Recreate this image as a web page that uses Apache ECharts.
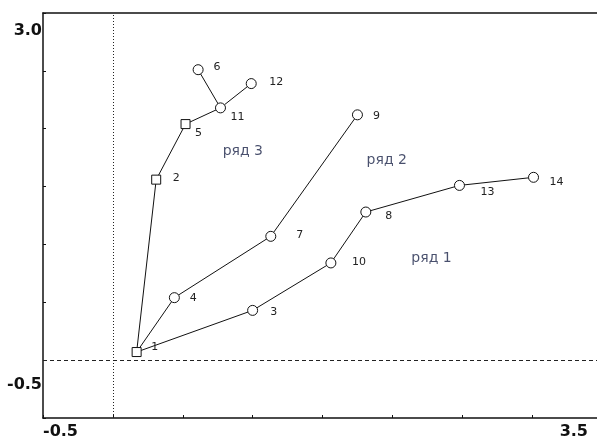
<!DOCTYPE html>
<html lang="ru">
<head>
<meta charset="UTF-8">
<title>ряды</title>
<style type="text/css">
body,html{width:100%;height:100%;margin:0;padding:0;background:#fff;}
#chart{width:597px;height:443px;}
</style>
</head>
<body>
<div id="chart"></div>
<script src="https://cdn.jsdelivr.net/npm/echarts@6/dist/echarts.min.js"></script>
<script type="text/javascript">
// точки
var nodeNames = ['1','2','3','4','5','6','7','8','9','10','11','12','13','14'];
var nodeX = [0.17, 0.31, 1.00, 0.44, 0.52, 0.61, 1.13, 1.81, 1.75, 1.56, 0.77, 0.99, 2.48, 3.01];
var nodeY = [0.07, 1.56, 0.43, 0.54, 2.04, 2.51, 1.07, 1.28, 2.12, 0.84, 2.18, 2.39, 1.51, 1.58];

// связи по рядам
var row1Links = [['1','3'],['3','10'],['10','8'],['8','13'],['13','14']];
var row2Links = [['1','4'],['4','7'],['7','9']];
var row3Links = [['1','2'],['2','5'],['5','11'],['11','6'],['11','12']];

var rowNames = ['ряд 1', 'ряд 2', 'ряд 3'];
var rowLabelX = [2.28, 1.96, 0.93];
var rowLabelY = [0.88, 1.73, 1.80];

// оси
var xTickValues = [-0.5, 3.5];
var xTickLabels = ['-0.5', '3.5'];
var yTickValues = [-0.5, 3.0];
var yTickLabels = ['-0.5', '3.0'];

// оформление подписей точек
var labelOffset = {
	'1':[18,-5], '2':[20,-1], '3':[21,2], '4':[19,0], '5':[13,9], '6':[19,-3], '7':[29,-1],
	'8':[23,4], '9':[19,1], '10':[28,-1], '11':[17,9], '12':[25,-1], '13':[28,7], '14':[23,5]
};
var squareNodes = ['1','2','5'];

var nodes = nodeNames.map(function (n, i) {
	var sq = squareNodes.indexOf(n) >= 0;
	return {
		name: n,
		value: [nodeX[i], nodeY[i]],
		symbol: sq ? 'rect' : 'circle',
		symbolSize: sq ? 9 : 10,
		label: { offset: labelOffset[n] }
	};
});
var links = row1Links.concat(row2Links, row3Links).map(function (l) {
	return { source: l[0], target: l[1] };
});

function tickFormatter(values, labels, styles) {
	return function (v) {
		for (var i = 0; i < values.length; i++) {
			if (Math.abs(v - values[i]) < 1e-6) return '{' + styles[i] + '|' + labels[i] + '}';
		}
		return '';
	};
}

var axisFont = { fontFamily: 'DejaVu Sans', fontWeight: 'bold', fontSize: 16, color: '#111' };
var frameLine = { show: true, onZero: false, lineStyle: { color: '#111', width: 1.5 } };

var option = {
	animation: false,
	backgroundColor: '#fff',
	// область графика уходит за правый край картинки
	grid: {
		left: 43, top: 13, width: 559, bottom: 25,
		outerBoundsMode: 'none'
	},
	xAxis: [{
		type: 'value', min: -0.5, max: 3.5, interval: 0.5,
		axisLine: frameLine,
		axisTick: { inside: true, length: 3, lineStyle: { color: '#111' } },
		splitLine: { show: false },
		axisLabel: {
			margin: 6,
			alignMinLabel: 'left',
			alignMaxLabel: 'right',
			formatter: tickFormatter(xTickValues, xTickLabels, ['lo', 'hi']),
			rich: {
				lo: axisFont,
				hi: Object.assign({ padding: [0, 14, 0, 0] }, axisFont)
			}
		}
	}, {
		// верхняя рамка
		type: 'value', position: 'top', min: -0.5, max: 3.5,
		axisLine: frameLine,
		axisTick: { show: false },
		axisLabel: { show: false },
		splitLine: { show: false }
	}],
	yAxis: {
		type: 'value', min: -0.5, max: 3.0, interval: 0.5,
		axisLine: frameLine,
		axisTick: { inside: true, length: 3, lineStyle: { color: '#111' } },
		splitLine: { show: false },
		axisLabel: {
			margin: 1,
			showMinLabel: true,
			showMaxLabel: true,
			formatter: tickFormatter(yTickValues, yTickLabels, ['lo', 'hi']),
			rich: {
				lo: Object.assign({ padding: [0, 0, 66, 0] }, axisFont),
				hi: Object.assign({ padding: [36, 0, 0, 0] }, axisFont)
			}
		}
	},
	series: [{
		type: 'graph',
		coordinateSystem: 'cartesian2d',
		layout: 'none',
		roam: false,
		z: 3,
		data: nodes,
		links: links,
		itemStyle: { color: '#fff', borderColor: '#111', borderWidth: 1 },
		lineStyle: { color: '#111', width: 1, opacity: 1, curveness: 0 },
		label: {
			show: true,
			position: 'inside',
			formatter: '{b}',
			fontFamily: 'DejaVu Sans',
			fontSize: 11,
			color: '#222'
		},
		emphasis: { disabled: true }
	}, {
		type: 'scatter',
		z: 2,
		symbolSize: 1,
		itemStyle: { color: 'rgba(0,0,0,0)' },
		data: rowNames.map(function (n, i) { return { name: n, value: [rowLabelX[i], rowLabelY[i]] }; }),
		label: {
			show: true,
			position: 'inside',
			formatter: '{b}',
			fontFamily: 'DejaVu Sans',
			fontSize: 14,
			color: '#1c2448'
		},
		markLine: {
			silent: true,
			symbol: 'none',
			label: { show: false },
			data: [
				{ xAxis: 0, lineStyle: { type: [1, 2], color: '#222', width: 1 } },
				{ yAxis: 0, lineStyle: { type: [4, 3], color: '#222', width: 1 } }
			]
		}
	}]
};

var chart = echarts.init(document.getElementById('chart'));
chart.setOption(option, true);
window.addEventListener('resize', function () {
	chart.resize();
});
</script>
</body>
</html>
